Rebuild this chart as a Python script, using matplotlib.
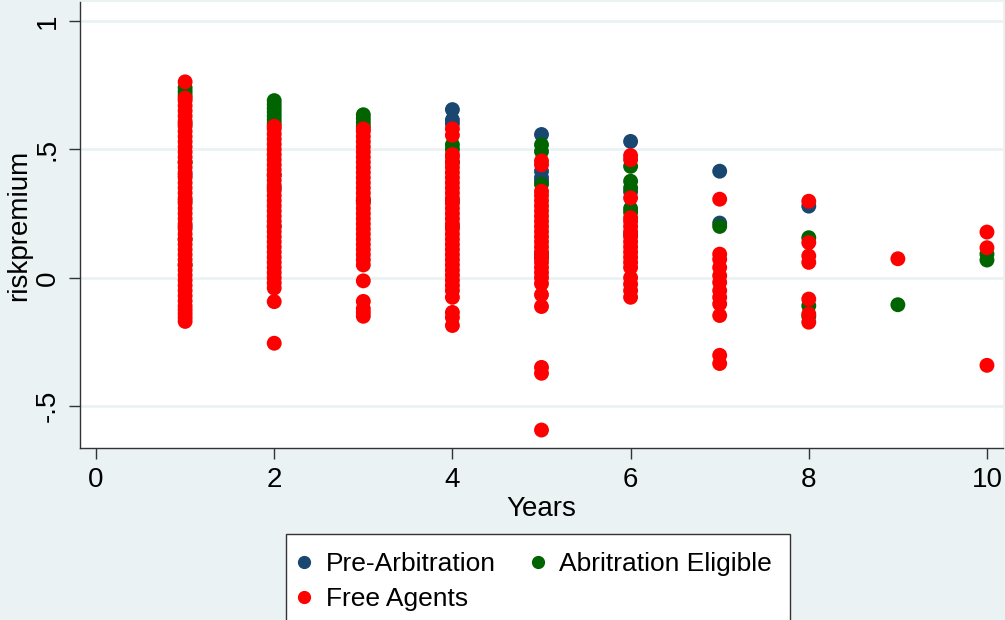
import matplotlib
matplotlib.use("Agg")
import matplotlib.pyplot as plt
from matplotlib.lines import Line2D

# years on the x axis, one value list per year for each group
years = [1, 2, 3, 4, 5, 6, 7, 8, 9, 10]

pre_arb = [
    [0.40, 0.20],
    [0.35],
    [0.30],
    [0.655, 0.615, 0.60, 0.30],
    [0.558, 0.415, 0.39, 0.376],
    [0.531, 0.335, 0.17],
    [0.415, 0.213],
    [0.279],
    [],
    [],
]

arb_elig = [
    [0.74, 0.725, 0.71, 0.60, 0.45, 0.30, 0.15, 0.05],
    [0.69, 0.675, 0.66, 0.645, 0.63, 0.615, 0.60, 0.40, 0.20],
    [0.635, 0.62, 0.605, 0.59, 0.30],
    [0.518, 0.50, 0.45, 0.20],
    [0.518, 0.492, 0.364, 0.093, 0.078],
    [0.434, 0.376, 0.35, 0.27, 0.255],
    [0.20],
    [0.156, -0.109, -0.15],
    [-0.105],
    [0.092, 0.069],
]

free_agents = [
    [-0.17, -0.155, -0.14, -0.125, -0.11, -0.09, -0.07, -0.05, -0.03, -0.01,
     0.01, 0.03, 0.05, 0.07, 0.09, 0.11, 0.13, 0.15, 0.17, 0.19, 0.21, 0.23,
     0.25, 0.27, 0.29, 0.31, 0.33, 0.35, 0.37, 0.39, 0.41, 0.43, 0.45, 0.47,
     0.49, 0.51, 0.53, 0.55, 0.57, 0.59, 0.61, 0.63, 0.65, 0.67, 0.69, 0.70,
     0.763],
    [-0.255, -0.093, -0.04, -0.02, 0.0, 0.02, 0.04, 0.06, 0.08, 0.10, 0.12,
     0.14, 0.16, 0.18, 0.20, 0.22, 0.24, 0.26, 0.28, 0.30, 0.32, 0.34, 0.36,
     0.38, 0.40, 0.42, 0.44, 0.46, 0.48, 0.50, 0.52, 0.54, 0.56, 0.58, 0.59],
    [-0.15, -0.135, -0.12, -0.092, -0.012, 0.05, 0.07, 0.09, 0.11, 0.13, 0.15,
     0.17, 0.19, 0.21, 0.23, 0.25, 0.27, 0.29, 0.31, 0.33, 0.35, 0.37, 0.39,
     0.41, 0.43, 0.45, 0.47, 0.49, 0.51, 0.53, 0.55, 0.57, 0.58],
    [-0.186, -0.155, -0.135, -0.076, -0.05, -0.03, -0.01, 0.01, 0.03, 0.05,
     0.07, 0.09, 0.11, 0.13, 0.15, 0.17, 0.19, 0.21, 0.23, 0.25, 0.27, 0.29,
     0.31, 0.33, 0.35, 0.37, 0.39, 0.41, 0.43, 0.45, 0.47, 0.48, 0.555,
     0.58],
    [-0.593, -0.372, -0.349, -0.112, -0.066, -0.023, 0.0, 0.02, 0.04, 0.06,
     0.08, 0.10, 0.12, 0.14, 0.16, 0.18, 0.20, 0.22, 0.24, 0.26, 0.28, 0.30,
     0.32, 0.337, 0.44, 0.455],
    [-0.076, -0.05, -0.025, 0.0, 0.04, 0.06, 0.08, 0.10, 0.12, 0.14, 0.16,
     0.18, 0.20, 0.22, 0.234, 0.311, 0.46, 0.476],
    [-0.334, -0.302, -0.147, -0.102, -0.076, -0.05, -0.018, 0.008, 0.04,
     0.072, 0.092, 0.306],
    [-0.173, -0.141, -0.083, 0.06, 0.085, 0.137, 0.298],
    [0.074],
    [-0.341, 0.117, 0.178],
]

series = [
    ("Pre-Arbitration", pre_arb, "#1a476f"),
    ("Abritration Eligible", arb_elig, "#006400"),
    ("Free Agents", free_agents, "#ff0000"),
]

BG = "#eaf2f3"
plt.rcParams["font.family"] = ["Liberation Sans", "DejaVu Sans"]

fig = plt.figure(figsize=(10.05, 6.2), dpi=100, facecolor=BG)
ax = fig.add_axes([80 / 1005, 1 - 448 / 620, 923 / 1005, 446 / 620])
ax.set_facecolor("white")

for name, vals, color in series:
    xs = [yr for yr, v in zip(years, vals) for _ in v]
    ys = [y for v in vals for y in v]
    ax.scatter(xs, ys, s=115, color=color, edgecolors="none", zorder=3)

ax.set_xlim(-0.18, 10.18)
ax.set_ylim(-0.663, 1.074)
ax.set_xticks([0, 2, 4, 6, 8, 10])
ax.set_yticks([-0.5, 0, 0.5, 1])
ax.set_yticklabels(["-.5", "0", ".5", "1"], rotation=90, va="center")
ax.tick_params(axis="both", direction="out", length=8, width=1,
               color="#333333", labelsize=20, pad=6)
ax.grid(axis="y", color=BG, linewidth=2, zorder=0)
ax.grid(axis="x", visible=False)
for side in ("top", "right"):
    ax.spines[side].set_visible(False)
for side in ("left", "bottom"):
    ax.spines[side].set_color("#333333")
    ax.spines[side].set_linewidth(1)

ax.set_xlabel("Years", fontsize=20, labelpad=2)
ax.set_ylabel("riskpremium", fontsize=20, labelpad=2)

handles = [Line2D([], [], marker="o", linestyle="none", markersize=8.5,
                  color=c, label=n) for n, _, c in series]
# column-major fill so rows read Pre / Arb then Free
order = [handles[0], handles[2], handles[1]]
leg = fig.legend(handles=order, loc="upper left", ncol=2,
                 bbox_to_anchor=(286 / 1005, 1 - 534 / 620),
                 borderaxespad=0, fontsize=19, frameon=True, fancybox=False,
                 edgecolor="#333333", facecolor="white", framealpha=1,
                 handletextpad=0.8, columnspacing=1.6, labelspacing=0.4,
                 borderpad=0.7, handlelength=0)
leg.get_frame().set_linewidth(1)

fig.savefig("out.png", dpi=100, facecolor=BG)
